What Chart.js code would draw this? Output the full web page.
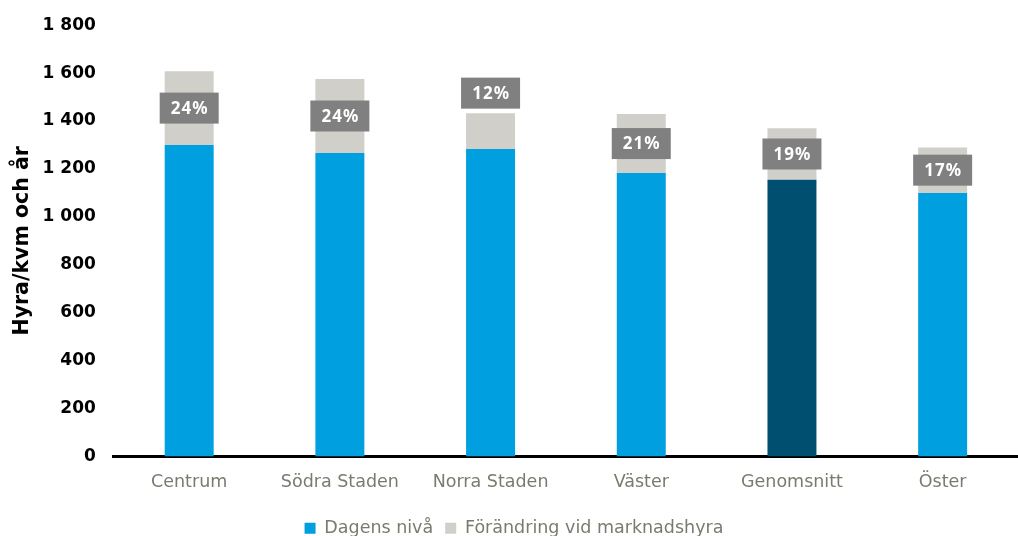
<!DOCTYPE html>
<html>
<head>
<meta charset="utf-8">
<script src="https://cdn.jsdelivr.net/npm/chart.js@4"></script>
<style>
  html, body { margin: 0; padding: 0; background: #fff; overflow: hidden; }
  #wrap { width: 1018px; height: 550px; margin-top: -3px; position: relative; }
</style>
</head>
<body>
<div id="wrap"><canvas id="rentChart"></canvas></div>
<script>
// Data
const areas = ['Centrum', 'Södra Staden', 'Norra Staden', 'Väster', 'Genomsnitt', 'Öster'];
const currentLevel = [1300, 1267, 1283, 1183, 1155, 1100];
const marketChange = [308, 308, 150, 246, 215, 190];
const changeLabels = ['24%', '24%', '12%', '21%', '19%', '17%'];
const yTicks = [0, 200, 400, 600, 800, 1000, 1200, 1400, 1600, 1800];

const BLUE = '#009FDF';
const DARK = '#004F71';
const GREY = '#D0CFCA';
const FONT = "'DejaVu Sans', sans-serif";

// grey boxes with the percent change
const pctBoxes = {
  id: 'pctBoxes',
  afterDatasetsDraw(chart) {
    const ctx = chart.ctx;
    const meta = chart.getDatasetMeta(1);
    ctx.save();
    ctx.font = "bold 17px 'Noto Sans', sans-serif";
    ctx.letterSpacing = '1px';
    ctx.textAlign = 'center';
    ctx.textBaseline = 'middle';
    meta.data.forEach((bar, i) => {
      const segH = bar.base - bar.y;
      const cy = segH > 40 ? (bar.y + bar.base) / 2 : bar.y - 20;
      const w = 59, h = 31;
      ctx.fillStyle = '#808080';
      ctx.fillRect(bar.x - w / 2, cy - h / 2, w, h);
      ctx.fillStyle = '#ffffff';
      ctx.fillText(changeLabels[i], bar.x + 0.5, cy + 1);
    });
    ctx.restore();
  }
};

new Chart(document.getElementById('rentChart'), {
  type: 'bar',
  data: {
    labels: areas,
    datasets: [
      {
        label: 'Dagens nivå',
        data: currentLevel,
        backgroundColor: c => c.dataIndex === 4 ? DARK : BLUE,
        borderWidth: 0,
        barPercentage: 0.325,
        categoryPercentage: 1
      },
      {
        label: 'Förändring vid marknadshyra',
        data: marketChange,
        backgroundColor: GREY,
        borderWidth: 0,
        barPercentage: 0.325,
        categoryPercentage: 1
      }
    ]
  },
  options: {
    responsive: true,
    maintainAspectRatio: false,
    animation: false,
    layout: { padding: { top: 8, left: 10, right: 0, bottom: 0 } },
    scales: {
      x: {
        stacked: true,
        grid: { display: false, drawTicks: false },
        border: { display: true, color: '#000', width: 3 },
        ticks: { color: '#7a7a6e', font: { family: FONT, size: 17.5 }, padding: 15 }
      },
      y: {
        stacked: true,
        min: 0,
        max: 1800,
        afterBuildTicks: axis => { axis.ticks = yTicks.map(v => ({ value: v })); },
        grid: { display: false, drawTicks: false },
        border: { display: false },
        ticks: {
          color: '#000',
          padding: 18,
          font: { family: FONT, size: 17, weight: 'bold' },
          callback: v => v >= 1000 ? Math.floor(v / 1000) + ' ' + String(v % 1000).padStart(3, '0') : String(v)
        },
        title: {
          display: true,
          text: 'Hyra/kvm och år',
          color: '#000',
          font: { family: FONT, size: 20.5, weight: 'bold' },
          padding: { top: 0, bottom: -10 }
        }
      }
    },
    plugins: {
      legend: {
        position: 'bottom',
        labels: {
          color: '#7a7a6e',
          font: { family: FONT, size: 17.5 },
          boxWidth: 11,
          boxHeight: 11,
          padding: 12
        }
      },
      tooltip: { enabled: false }
    }
  },
  plugins: [pctBoxes]
});
</script>
</body>
</html>
